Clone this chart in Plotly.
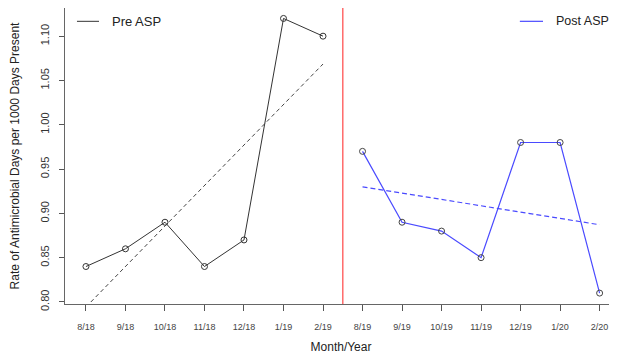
import numpy as np
import plotly.graph_objects as go

months = ["8/18", "9/18", "10/18", "11/18", "12/18", "1/19", "2/19",
          "8/19", "9/19", "10/19", "11/19", "12/19", "1/20", "2/20"]
pre_rate = [0.84, 0.86, 0.89, 0.84, 0.87, 1.12, 1.10]
post_rate = [0.97, 0.89, 0.88, 0.85, 0.98, 0.98, 0.81]
y_ticks = [0.80, 0.85, 0.90, 0.95, 1.00, 1.05, 1.10]
series_names = ["Pre ASP", "Post ASP"]

pre_x = list(range(len(pre_rate)))
post_x = list(range(len(pre_rate), len(pre_rate) + len(post_rate)))

pre_fit = np.polyfit(pre_x, pre_rate, 1)
post_fit = np.polyfit(post_x, post_rate, 1)

BLACK = "#333333"
BLUE = "#4a4aff"

fig = go.Figure()
fig.add_trace(go.Scatter(x=pre_x, y=pre_rate, mode="lines+markers", name=series_names[0],
                         line=dict(color=BLACK, width=1),
                         marker=dict(symbol="circle-open", size=6, color=BLACK, line=dict(width=1)),
                         showlegend=False, cliponaxis=False))
fig.add_trace(go.Scatter(x=pre_x, y=np.polyval(pre_fit, pre_x), mode="lines",
                         line=dict(color="#444444", width=1, dash="4px,3px"), showlegend=False))
fig.add_trace(go.Scatter(x=post_x, y=post_rate, mode="lines+markers", name=series_names[1],
                         line=dict(color=BLUE, width=1.2),
                         marker=dict(symbol="circle-open", size=6, color="#444444", line=dict(width=1)),
                         showlegend=False, cliponaxis=False))
fig.add_trace(go.Scatter(x=post_x, y=np.polyval(post_fit, post_x), mode="lines",
                         line=dict(color=BLUE, width=1.2, dash="5px,3px"), showlegend=False))

fig.add_shape(type="line", x0=6.5, x1=6.5, y0=0, y1=1, xref="x", yref="paper",
              line=dict(color="#ff6a6a", width=1.5))

# legend keys (R-style, line + label)
legend_y = 0.955
fig.add_shape(type="line", x0=0.0217, x1=0.0616, y0=legend_y, y1=legend_y,
              xref="paper", yref="paper", line=dict(color=BLACK, width=1))
fig.add_annotation(x=0.0815, y=legend_y, xref="paper", yref="paper", text=series_names[0],
                   showarrow=False, xanchor="left", yanchor="middle",
                   font=dict(size=13, color="#222222"))
fig.add_shape(type="line", x0=0.824, x1=0.866, y0=legend_y, y1=legend_y,
              xref="paper", yref="paper", line=dict(color=BLUE, width=1.2))
fig.add_annotation(x=0.9855, y=legend_y, xref="paper", yref="paper", text=series_names[1],
                   showarrow=False, xanchor="right", yanchor="middle",
                   borderpad=0, borderwidth=0,
                   font=dict(size=12.5, color="#222222"))

fig.update_layout(
    width=609, height=346,
    margin=dict(l=57, r=0, t=0, b=50, autoexpand=False),
    plot_bgcolor="white", paper_bgcolor="white",
    showlegend=False,
    font=dict(family="Liberation Sans, Arial, sans-serif", color="#333333"),
    xaxis=dict(range=[-0.53, 13.44], tickmode="array", tickvals=list(range(len(months))),
               ticktext=months, showgrid=False, zeroline=False, automargin=False,
               showline=True, linecolor="#666666", linewidth=1, mirror=True,
               ticks="outside", ticklen=6, tickcolor="#555555",
               tickfont=dict(size=9, color="#444444"), ticklabelstandoff=8,
               title=dict(text="Month/Year", font=dict(size=12, color="#222222"), standoff=17)),
    yaxis=dict(range=[0.7977, 1.1318], tickmode="array", tickvals=y_ticks,
               ticktext=[f"{v:.2f}" for v in y_ticks], tickangle=-90,
               showgrid=False, zeroline=False, automargin=False,
               showline=True, linecolor="#666666", linewidth=1,
               ticks="outside", ticklen=5, tickcolor="#555555",
               tickfont=dict(size=11, color="#333333"), ticklabelstandoff=6,
               title=dict(text="Rate of Antimicrobial Days per 1000 Days Present",
                          font=dict(size=12, color="#222222"), standoff=17)),
)

fig.write_html("out.html")
